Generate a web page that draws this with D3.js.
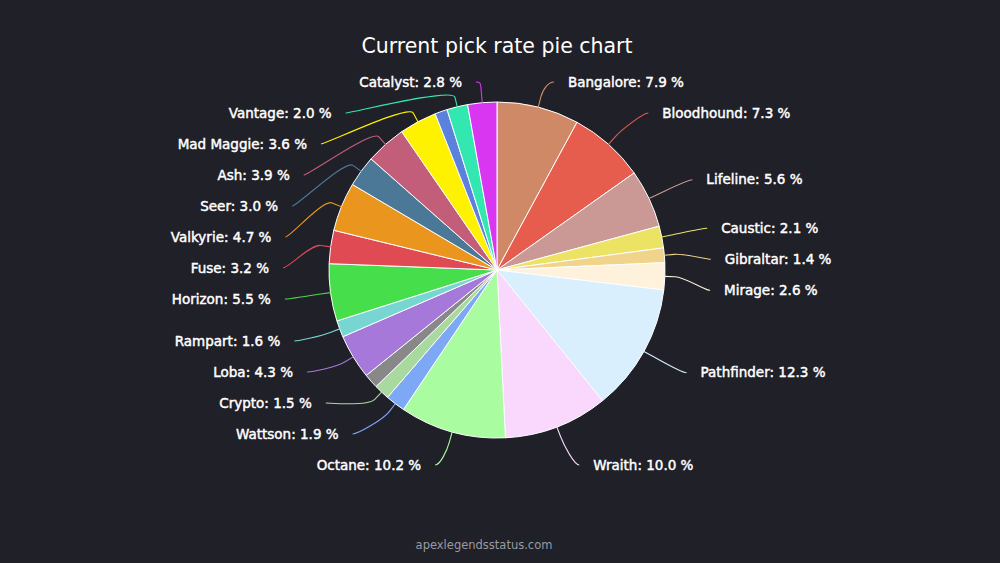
<!DOCTYPE html>
<html>
<head>
<meta charset="utf-8">
<script src="https://cdn.jsdelivr.net/npm/d3@7/dist/d3.min.js"></script>
<style>
  html, body { margin: 0; padding: 0; background: #202028; }
  svg { display: block; }
</style>
</head>
<body>
<svg id="chart" width="1000" height="563"></svg>
<script>
// ---- data ----
const legends = ["Bangalore","Bloodhound","Lifeline","Caustic","Gibraltar","Mirage","Pathfinder","Wraith","Octane","Wattson","Crypto","Revenant","Loba","Rampart","Horizon","Fuse","Valkyrie","Seer","Ash","Mad Maggie","Newcastle","Vantage","Catalyst"];
const pickRates = [7.9,7.3,5.6,2.1,1.4,2.6,12.3,10.0,10.2,1.9,1.5,1.4,4.3,1.6,5.5,3.2,4.7,3.0,3.9,3.6,1.2,2.0,2.8];
const hiddenLabels = ["Revenant","Newcastle"];
const titleText = "Current pick rate pie chart";
const creditText = "apexlegendsstatus.com";

// ---- styles ----
const sliceColors = ["#d08966","#e65c4d","#ca9996","#ece264","#f0d48c","#fef2dc","#d9effe","#fad7fc","#aafca0","#7da8f5","#a8daa0","#888888","#a678da","#78d6d2","#46de4a","#e04a52","#ea961e","#4a7896","#c25e7a","#fff200","#5a82dc","#32e8b0","#d836f0"];
const FONT = "'DejaVu Sans', Verdana, sans-serif";

const W = 1000, H = 563;
const cx = 497, cy = 270, r = 168;
const svg = d3.select("#chart");

svg.append("rect").attr("width", W).attr("height", H).attr("fill", "#202028");

svg.append("text")
  .attr("x", 497).attr("y", 53)
  .attr("text-anchor", "middle")
  .attr("font-family", FONT).attr("font-size", 20.5)
  .attr("fill", "#ffffff")
  .text(titleText);

svg.append("text")
  .attr("x", 484).attr("y", 549)
  .attr("text-anchor", "middle")
  .attr("font-family", FONT).attr("font-size", 11.5)
  .attr("fill", "#9a9aa0")
  .text(creditText);

const data = legends.map((n, i) => ({ name: n, value: pickRates[i], color: sliceColors[i] }));
const pie = d3.pie().sort(null).value(d => d.value);
const arcs = pie(data);
const arc = d3.arc().innerRadius(0).outerRadius(r);

const g = svg.append("g").attr("transform", `translate(${cx},${cy})`);
g.selectAll("path.slice").data(arcs).join("path")
  .attr("class", "slice")
  .attr("d", arc)
  .attr("fill", d => d.data.color)
  .attr("stroke", "#ffffff")
  .attr("stroke-width", 1)
  .attr("stroke-linejoin", "round");

// ---- label layout (Highcharts-like) ----
const Rn = 212, Rl = 228, topY = 82, botY = 465, gap = 31, pad = 14;
const labels = arcs.filter(a => !hiddenLabels.includes(a.data.name)).map(a => {
  const m = (a.startAngle + a.endAngle) / 2;
  return { a, m, right: m < Math.PI, ny: cy - Math.cos(m) * Rn };
});
function distribute(list) {
  list.sort((p, q) => p.ny - q.ny);
  list.forEach(l => l.y = Math.max(topY, Math.min(botY, l.ny)));
  for (let i = 1; i < list.length; i++) list[i].y = Math.max(list[i].y, list[i - 1].y + gap);
  list[list.length - 1].y = Math.min(list[list.length - 1].y, botY);
  for (let i = list.length - 2; i >= 0; i--) list[i].y = Math.min(list[i].y, list[i + 1].y - gap);
  list[0].y = Math.max(list[0].y, topY);
  for (let i = 1; i < list.length; i++) list[i].y = Math.max(list[i].y, list[i - 1].y + gap);
}
const rightL = labels.filter(l => l.right), leftL = labels.filter(l => !l.right);
distribute(rightL); distribute(leftL);
labels.forEach(l => {
  const s = l.right ? 1 : -1;
  const clamped = (l.y === topY && l.ny < topY) || (l.y === botY && l.ny > botY);
  if (clamped) l.x = cx + Math.sin(l.m) * Rl + s * 15;
  else {
    const dy = l.y - cy;
    l.x = cx + s * Math.sqrt(Math.max(0, Rl * Rl - dy * dy));
  }
  l.s = s;
});

const lg = svg.append("g");
lg.selectAll("path.conn").data(labels).join("path")
  .attr("class", "conn")
  .attr("fill", "none")
  .attr("stroke", l => l.a.data.color)
  .attr("stroke-width", 1.1)
  .attr("d", l => {
    const lx = l.x - l.s * pad, ly = l.y;
    const tx = cx + Math.sin(l.m) * r, ty = cy - Math.cos(l.m) * r;
    const bx = cx + Math.sin(l.m) * (r + 10), by = cy - Math.cos(l.m) * (r + 10);
    const p = d3.path();
    p.moveTo(lx, ly);
    p.bezierCurveTo(lx - l.s * 5, ly, 2 * bx - tx, 2 * by - ty, bx, by);
    p.lineTo(tx, ty);
    return p.toString();
  });

lg.selectAll("text.lbl").data(labels).join("text")
  .attr("class", "lbl")
  .attr("x", l => l.x).attr("y", l => l.y)
  .attr("dy", "0.35em")
  .attr("text-anchor", l => l.right ? "start" : "end")
  .attr("font-family", FONT).attr("font-size", 13.5)
  .attr("fill", "#ffffff")
  .attr("stroke", "#ffffff").attr("stroke-width", 0.45)
  .text(l => `${l.a.data.name}: ${l.a.data.value.toFixed(1)} %`);
</script>
</body>
</html>
